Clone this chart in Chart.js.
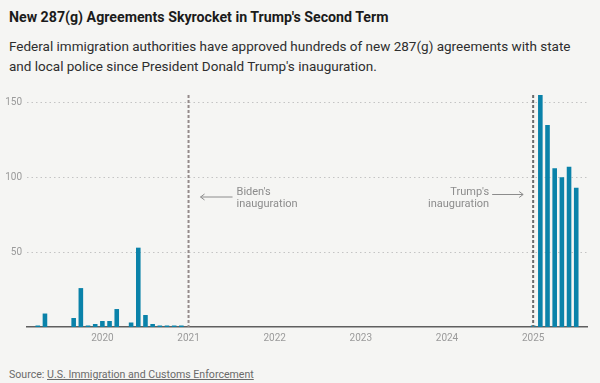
<!DOCTYPE html>
<html>
<head>
<meta charset="utf-8">
<script src="https://cdn.jsdelivr.net/npm/chart.js@4/dist/chart.umd.min.js"></script>
<style>
  html, body { margin: 0; padding: 0; background: #f5f5f3; }
  body { width: 600px; height: 383px; position: relative; overflow: hidden; font-family: Roboto, "Noto Sans", sans-serif; }
  #title { position: absolute; left: 9px; top: 9px; font-size: 14.2px; line-height: 16px; font-weight: 700; color: #1b1b1b; white-space: nowrap; }
  #subtitle { position: absolute; left: 9px; top: 36px; width: 590px; font-size: 13.5px; line-height: 20px; color: #2e2e2e; }
  #source { position: absolute; left: 9px; top: 368px; font-size: 10.6px; line-height: 14px; color: #6a6a6a; }
  #source a { color: #6a6a6a; text-decoration: underline; }
  #wrap { position: absolute; left: 0; top: 0; width: 600px; height: 383px; }
</style>
</head>
<body>
<div id="title">New 287(g) Agreements Skyrocket in Trump's Second Term</div>
<div id="subtitle">Federal immigration authorities have approved hundreds of new 287(g) agreements with state<br>and local police since President Donald Trump's inauguration.</div>
<div id="source">Source: <a href="#">U.S. Immigration and Customs Enforcement</a></div>
<div id="wrap"><canvas id="barChart" width="600" height="383"></canvas></div>
<script>
// monthly categories, Mar 2019 - Aug 2025
var months = ["Jan", "Feb", "Mar", "Apr", "May", "Jun", "Jul", "Aug", "Sep", "Oct", "Nov", "Dec"];
var years = [2019, 2020, 2021, 2022, 2023, 2024, 2025];
var firstMonth = 2;   // Mar 2019
var lastMonth = 7;    // Aug 2025

var labels = [];
years.forEach(function (y, yi) {
    months.forEach(function (m, mi) {
        if (yi === 0 && mi < firstMonth) return;
        if (yi === years.length - 1 && mi > lastMonth) return;
        labels.push(m + " " + y);
    });
});

// new agreements per month
var agreements2019 = [0, 1, 9, 0, 0, 0, 6, 26, 1, 2];            // Mar-Dec
var agreements2020 = [4, 4, 12, 0, 3, 53, 8, 2, 1, 1, 1, 1];
var agreements2021 = [0, 0, 0, 0, 0, 0, 0, 0, 0, 0, 0, 0];
var agreements2022 = [0, 0, 0, 0, 0, 0, 0, 0, 0, 0, 0, 0];
var agreements2023 = [0, 0, 0, 0, 0, 0, 0, 0, 0, 0, 0, 0];
var agreements2024 = [0, 0, 0, 0, 0, 0, 0, 0, 0, 0, 0, 0];
var agreements2025 = [1, 155, 135, 106, 100, 107, 93, null];     // Jan-Aug

var values = [].concat(agreements2019, agreements2020, agreements2021,
    agreements2022, agreements2023, agreements2024, agreements2025);

var yTicks = [50, 100, 150];

var markers = [
    { label: "Jan 2021", text: ["Biden's", "inauguration"], side: "right", color: "#948a8a" },
    { label: "Jan 2025", text: ["Trump's", "inauguration"], side: "left", color: "#6c6c6c" }
];

var inaugurationPlugin = {
    id: 'inaugurations',
    afterDatasetsDraw: function (chart) {
        var ctx = chart.ctx;
        var area = chart.chartArea;
        var xs = chart.scales.x;
        ctx.save();
        markers.forEach(function (mk) {
            var x = xs.getPixelForValue(labels.indexOf(mk.label));
            // dashed line
            ctx.beginPath();
            ctx.setLineDash([3, 2]);
            ctx.lineWidth = 2;
            ctx.strokeStyle = mk.color;
            ctx.moveTo(x, area.top);
            ctx.lineTo(x, area.bottom);
            ctx.stroke();
            ctx.setLineDash([]);

            // label + arrow
            ctx.font = "11px Roboto, sans-serif";
            ctx.fillStyle = "#8c8c8c";
            ctx.strokeStyle = "#8c8c8c";
            ctx.lineWidth = 1;
            ctx.textBaseline = "middle";
            var y1 = 192, y2 = 204.5;
            if (mk.side === "right") {
                ctx.textAlign = "left";
                ctx.fillText(mk.text[0], x + 48, y1);
                ctx.fillText(mk.text[1], x + 48, y2);
                var ay = 197, ax0 = x + 44, ax1 = x + 12;
                ctx.beginPath();
                ctx.moveTo(ax0, ay); ctx.lineTo(ax1, ay);
                ctx.moveTo(ax1 + 4, ay - 3); ctx.lineTo(ax1, ay); ctx.lineTo(ax1 + 4, ay + 3);
                ctx.stroke();
            } else {
                ctx.textAlign = "right";
                ctx.fillText(mk.text[0], x - 44, y1);
                ctx.fillText(mk.text[1], x - 44, y2);
                var by = 194.5, bx0 = x - 41, bx1 = x - 10;
                ctx.beginPath();
                ctx.moveTo(bx0, by); ctx.lineTo(bx1, by);
                ctx.moveTo(bx1 - 4, by - 3); ctx.lineTo(bx1, by); ctx.lineTo(bx1 - 4, by + 3);
                ctx.stroke();
            }
        });
        ctx.restore();
    }
};

var barData = {
    labels: labels,
    datasets: [
        {
            label: "New 287(g) agreements",
            backgroundColor: "#0a82a9",
            borderWidth: 0,
            barPercentage: 0.64,
            categoryPercentage: 1.0,
            data: values
        }
    ]
};

var barOptions = {
    responsive: false,
    animation: false,
    layout: { padding: { top: 95, right: 13, bottom: 36, left: 0 } },
    plugins: {
        legend: { display: false },
        tooltip: { enabled: false }
    },
    scales: {
        x: {
            offset: true,
            grid: { display: false, drawTicks: false },
            border: { display: true, color: "#5f5f5f", width: 1.5 },
            ticks: {
                autoSkip: false,
                maxRotation: 0,
                padding: 5,
                color: "#9a9a9a",
                font: { family: "Roboto, sans-serif", size: 10 },
                callback: function (v, i) {
                    var l = labels[i];
                    return l.indexOf("Jan ") === 0 ? l.substring(4) : "";
                }
            },
            afterFit: function (s) { s.height = 20; }
        },
        y: {
            min: 0,
            max: 155,
            afterBuildTicks: function (s) {
                s.ticks = yTicks.map(function (v) { return { value: v }; });
            },
            grid: {
                color: "#c4c4c4",
                lineWidth: 1,
                drawTicks: false
            },
            // dotted horizontal grid
            border: { display: false, dash: [1.5, 3] },
            ticks: {
                padding: 5,
                color: "#9a9a9a",
                font: { family: "Roboto, sans-serif", size: 10 }
            },
            afterFit: function (s) { s.width = 27; }
        }
    }
};

var ctx = document.getElementById("barChart").getContext("2d");
new Chart(ctx, { type: 'bar', data: barData, options: barOptions, plugins: [inaugurationPlugin] });
</script>
</body>
</html>
